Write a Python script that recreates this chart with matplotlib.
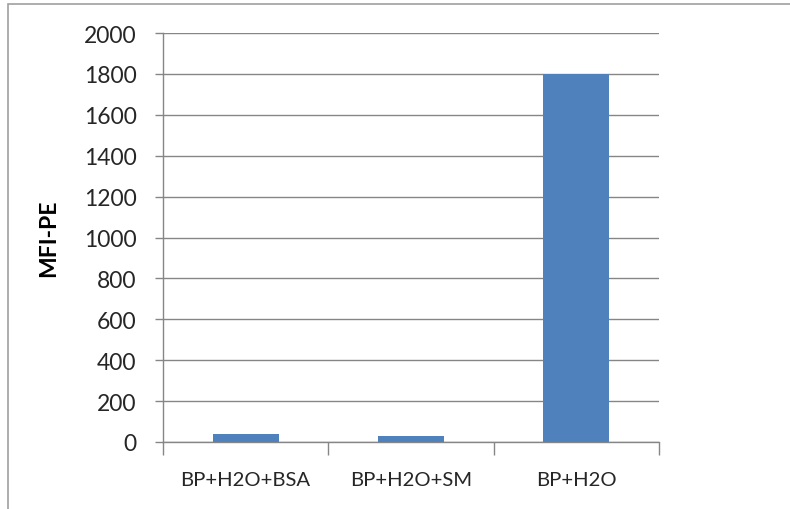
import matplotlib.pyplot as plt
from matplotlib.patches import Rectangle

# data
categories = ["BP+H2O+BSA", "BP+H2O+SM", "BP+H2O"]
mfi_pe = [40, 30, 1800]

y_ticks = list(range(0, 2001, 200))

BAR_COLOR = "#4F81BD"
GRID_COLOR = "#868686"
TEXT_COLOR = "#262626"

plt.rcParams["font.family"] = ["Lato", "DejaVu Sans"]

fig = plt.figure(figsize=(7.9, 5.1), dpi=100)
ax = fig.add_axes([0.2063, 0.1314, 0.6279, 0.8019])

x = list(range(len(categories)))
ax.bar(x, mfi_pe, width=0.4, color=BAR_COLOR, zorder=3)

ax.set_xlim(-0.5, len(categories) - 0.5)
ax.set_ylim(0, 2000)
ax.set_yticks(y_ticks)
ax.set_yticklabels([str(v) for v in y_ticks], fontsize=16.5, color=TEXT_COLOR)
ax.yaxis.grid(True, color=GRID_COLOR, linewidth=1.0, zorder=0)

# category boundaries get the long ticks, labels sit on minor ticks
ax.set_xticks([i - 0.5 for i in range(len(categories) + 1)])
ax.set_xticklabels([])
ax.set_xticks(x, minor=True)
ax.set_xticklabels(categories, minor=True, fontsize=14.6, color=TEXT_COLOR)
ax.tick_params(axis="x", which="major", length=9, width=1, color=GRID_COLOR, direction="out")
ax.tick_params(axis="x", which="minor", length=0, pad=21)
ax.tick_params(axis="y", length=6, width=1, color=GRID_COLOR, direction="out", pad=13)

for side in ("top", "right"):
    ax.spines[side].set_visible(False)
for side in ("left", "bottom"):
    ax.spines[side].set_color(GRID_COLOR)
    ax.spines[side].set_linewidth(1.0)

ax.set_ylabel("MFI-PE", fontsize=16.5, fontweight="bold", color="black", labelpad=18)

# chart area frame
fig.patches.append(Rectangle((8 / 790, -0.1), 1.2, 1.1 - 5 / 510,
                             transform=fig.transFigure, fill=False,
                             edgecolor="#A0A0A0", linewidth=1.2))

fig.savefig("out.png", dpi=100, facecolor="white")
